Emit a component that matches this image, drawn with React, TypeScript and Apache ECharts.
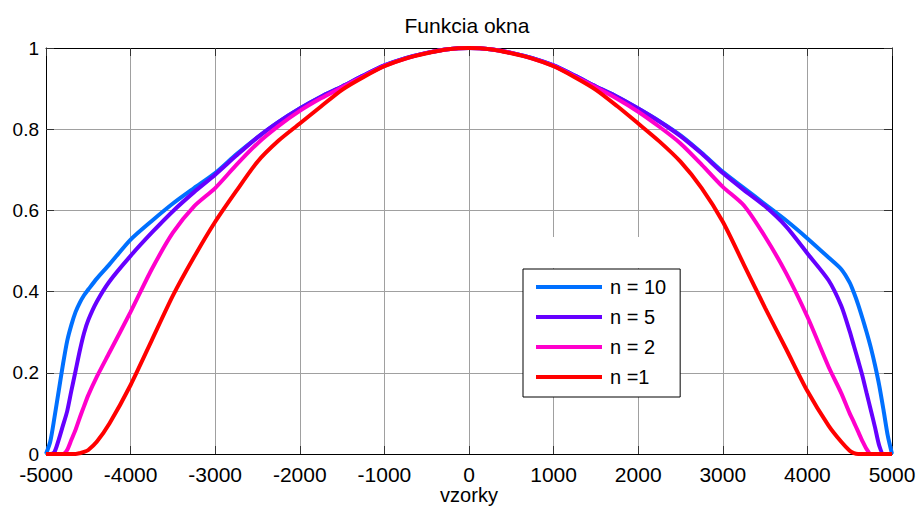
import React, { useEffect, useRef } from "react";
import * as echarts from "echarts";

const xSamples = [
  -5000, -4950, -4900, -4850, -4800, -4750, -4700, -4650, -4600, -4550, -4500,
  -4400, -4250, -4000, -3750, -3500, -3250, -3000, -2750, -2500, -2250, -2000,
  -1750, -1500, -1250, -1000, -750, -500, -250,
  0,
  250, 500, 750, 1000, 1250, 1500, 1750, 2000, 2250, 2500, 2750, 3000, 3250,
  3500, 3750, 4000, 4250, 4400,
  4500, 4550, 4600, 4650, 4700, 4750, 4800, 4850, 4900, 4950, 5000,
];

const n10 = [
  0, 0.03, 0.09, 0.155, 0.22, 0.278, 0.318, 0.35, 0.373, 0.391, 0.405,
  0.432, 0.467, 0.528, 0.574, 0.617, 0.655, 0.692, 0.738, 0.78, 0.818, 0.851,
  0.88, 0.905, 0.932, 0.957, 0.975, 0.988, 0.997,
  1,
  0.997, 0.988, 0.975, 0.957, 0.932, 0.905, 0.88, 0.851, 0.82, 0.785, 0.742,
  0.695, 0.655, 0.615, 0.575, 0.531, 0.484, 0.455,
  0.422, 0.397, 0.368, 0.335, 0.3, 0.262, 0.218, 0.168, 0.108, 0.045, 0,
];

const n5 = [
  0, 0, 0.005, 0.035, 0.07, 0.105, 0.156, 0.205, 0.255, 0.298, 0.33,
  0.375, 0.425, 0.488, 0.545, 0.598, 0.645, 0.688, 0.735, 0.78, 0.818, 0.851,
  0.88, 0.905, 0.932, 0.957, 0.975, 0.988, 0.997,
  1,
  0.997, 0.988, 0.975, 0.957, 0.932, 0.905, 0.88, 0.851, 0.819, 0.783, 0.74,
  0.692, 0.65, 0.61, 0.56, 0.494, 0.428, 0.365,
  0.302, 0.266, 0.23, 0.193, 0.15, 0.108, 0.065, 0.02, 0, 0, 0,
];

const n2 = [
  0, 0, 0, 0, 0, 0.01, 0.035, 0.06, 0.09, 0.118, 0.145,
  0.19, 0.25, 0.35, 0.455, 0.545, 0.61, 0.655, 0.712, 0.765, 0.808, 0.845,
  0.876, 0.903, 0.93, 0.956, 0.974, 0.988, 0.997,
  1,
  0.997, 0.988, 0.974, 0.956, 0.93, 0.903, 0.875, 0.843, 0.806, 0.765, 0.713,
  0.658, 0.612, 0.535, 0.445, 0.338, 0.215, 0.15,
  0.1, 0.078, 0.055, 0.032, 0.012, 0, 0, 0, 0, 0, 0,
];

const n1 = [
  0, 0, 0, 0, 0, 0, 0, 0, 0.002, 0.005, 0.01,
  0.03, 0.075, 0.17, 0.28, 0.39, 0.485, 0.572, 0.648, 0.72, 0.772, 0.814,
  0.856, 0.897, 0.928, 0.955, 0.974, 0.987, 0.997,
  1,
  0.997, 0.987, 0.974, 0.955, 0.928, 0.897, 0.857, 0.814, 0.77, 0.72, 0.655,
  0.572, 0.466, 0.36, 0.258, 0.155, 0.07, 0.03,
  0.008, 0.002, 0, 0, 0, 0, 0, 0, 0, 0, 0,
];

const seriesNames = ["n = 10", "n = 5", "n = 2", "n =1"];
const seriesColors = ["#0070FF", "#6600FF", "#FF00CC", "#FF0000"];
const seriesValues = [n10, n5, n2, n1];

const FONT = "'Liberation Sans', Arial, Helvetica, sans-serif";

export default function App() {
  const ref = useRef<HTMLDivElement>(null);

  useEffect(() => {
    if (!ref.current) return;
    const chart = echarts.init(ref.current, null, { renderer: "svg" });

    const axisLine = {
      show: true,
      onZero: false,
      lineStyle: { color: "#000", width: 1 },
    };
    const tickIn = {
      show: true,
      inside: true,
      length: 8,
      lineStyle: { color: "#333", width: 1 },
    };

    chart.setOption({
      animation: false,
      backgroundColor: "#fff",
      textStyle: { fontFamily: FONT },
      title: {
        text: "Funkcia okna",
        left: 467,
        textAlign: "center",
        top: 15,
        padding: 0,
        textStyle: {
          fontFamily: FONT,
          fontSize: 21,
          fontWeight: "normal",
          color: "#000",
        },
      },
      grid: {
        left: 46,
        right: 28,
        top: 48,
        bottom: 57,
        containLabel: false,
        outerBoundsMode: "none",
      },
      legend: {
        orient: "vertical",
        left: 523,
        top: 269,
        padding: [8, 14, 10, 13],
        itemGap: 10,
        itemWidth: 66,
        itemHeight: 4,
        icon: "rect",
        backgroundColor: "#fff",
        borderColor: "#000",
        borderWidth: 1,
        borderRadius: 0,
        data: seriesNames,
        textStyle: {
          fontFamily: FONT,
          fontSize: 20,
          lineHeight: 20,
          color: "#000",
          padding: [0, 0, 0, 3],
        },
      },
      graphic: [
        {
          type: "rect",
          z: 1,
          shape: { x: 540, y: 237, width: 120, height: 31 },
          style: { fill: "#fff" },
          silent: true,
        },
      ],
      xAxis: [
        {
          type: "value",
          position: "bottom",
          min: -5000,
          max: 5000,
          interval: 1000,
          name: "vzorky",
          nameLocation: "middle",
          nameGap: 31,
          nameMoveOverlap: false,
          nameTextStyle: { fontFamily: FONT, fontSize: 20, color: "#000" },
          axisLine,
          axisTick: tickIn,
          axisLabel: {
            fontFamily: FONT,
            fontSize: 21,
            lineHeight: 15,
            color: "#000",
            margin: 13,
            formatter: (v: number) => String(v),
          },
          splitLine: { show: true, lineStyle: { color: "#a0a0a0", width: 1 } },
        },
        {
          type: "value",
          position: "top",
          min: -5000,
          max: 5000,
          interval: 1000,
          axisLine,
          axisTick: tickIn,
          axisLabel: { show: false },
          splitLine: { show: false },
        },
      ],
      yAxis: [
        {
          type: "value",
          position: "left",
          min: 0,
          max: 1,
          interval: 0.2,
          axisLine,
          axisTick: tickIn,
          axisLabel: {
            fontFamily: FONT,
            fontSize: 19,
            lineHeight: 13,
            color: "#000",
            margin: 7,
            formatter: (v: number) => String(Math.round(v * 10) / 10),
          },
          splitLine: { show: true, lineStyle: { color: "#a0a0a0", width: 1 } },
        },
        {
          type: "value",
          position: "right",
          min: 0,
          max: 1,
          interval: 0.2,
          axisLine,
          axisTick: tickIn,
          axisLabel: { show: false },
          splitLine: { show: false },
        },
      ],
      series: seriesValues.map((vals, i) => ({
        name: seriesNames[i],
        type: "line",
        xAxisIndex: 0,
        yAxisIndex: 0,
        showSymbol: false,
        symbol: "none",
        smooth: 0.25,
        z: 3 + i,
        color: seriesColors[i],
        lineStyle: { color: seriesColors[i], width: 4 },
        data: xSamples.map((x, j) => [x, vals[j]]),
      })),
    });

    return () => chart.dispose();
  }, []);

  return (
    <div
      ref={ref}
      style={{ position: "fixed", left: 0, top: 0, width: 920, height: 511 }}
    />
  );
}
